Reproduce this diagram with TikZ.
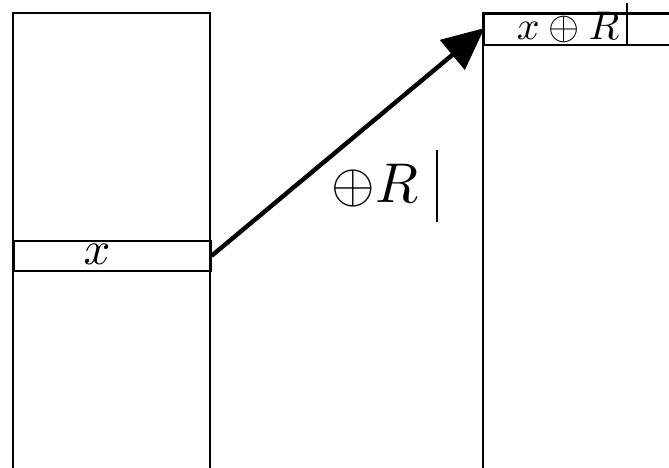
\documentclass[tikz,border=0pt]{standalone}
\usetikzlibrary{arrows.meta}
\tikzset{
  boxline/.style={draw=black, line width=1.6pt},
  cell/.style={boxline, minimum width=#1, minimum height=30pt, inner sep=0pt, anchor=north west},
  bar/.style={draw=black, line width=1.1pt},
  bigarrow/.style={draw=black, line width=4.4pt, -{Triangle[length=42pt,width=38pt]}, shorten >=-2pt}
}
\begin{document}
\begin{tikzpicture}[x=1pt,y=-1pt]
\useasboundingbox (0,0) rectangle (669,467);
\clip (0,0) rectangle (669,467);
% left column
\draw[boxline] (13,480) -- (13,13) -- (210,13) -- (210,480);
\node[cell=197pt] (xcell) at (13,240) {};
\node[scale=4.7] (xlabel) at (97,254) {$x$};
% right column
\draw[boxline] (483,480) -- (483,13) -- (700,13);
\node[cell=220pt, minimum height=31pt] (topcell) at (483,13) {};
\node[scale=4.0] (toplabel) at (568,27) {$x \oplus R$};
\draw[bar] (627,3) -- (627,44);
% arrow
\draw[bigarrow] (xcell.east) -- (topcell.west);
% arrow label
\node[scale=5.6] (oplabel) at (375,186) {$\oplus R$};
\draw[bar] (437,150) -- (437,222);
\end{tikzpicture}
\end{document}
